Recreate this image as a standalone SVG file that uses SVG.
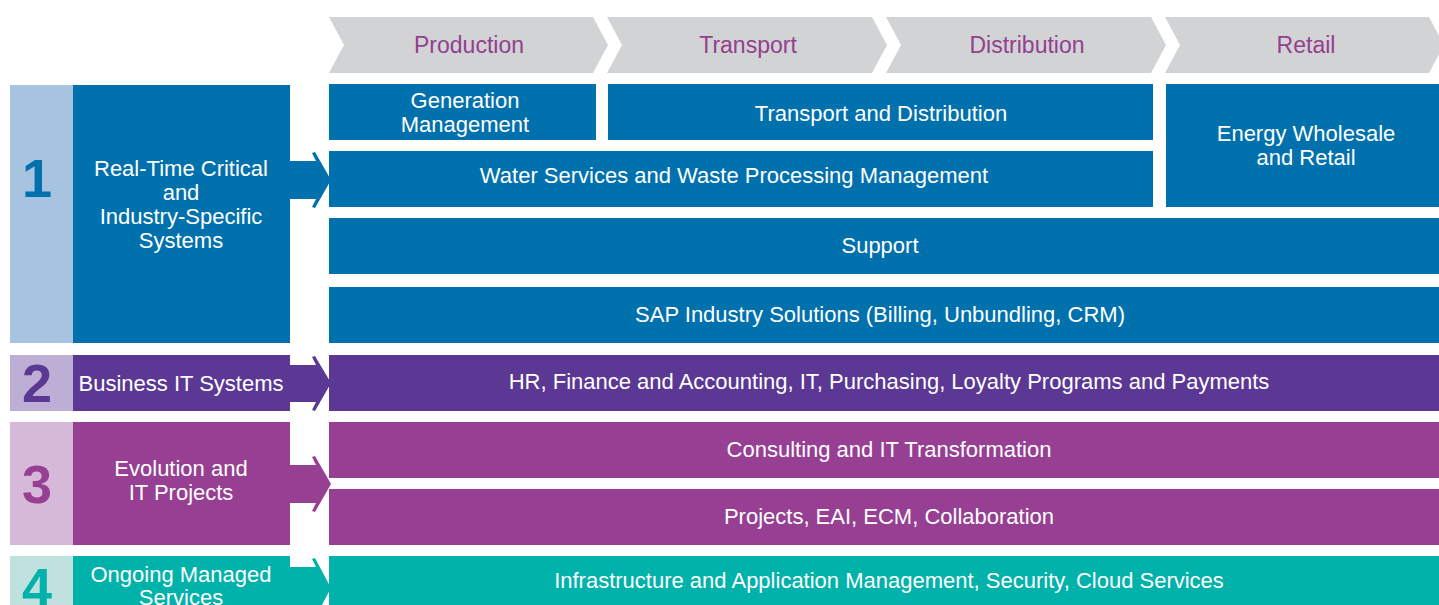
<svg xmlns="http://www.w3.org/2000/svg" width="1439" height="605" viewBox="0 0 1439 605">
<style>
text{font-family:"Liberation Sans","DejaVu Sans",sans-serif;font-size:22px;text-anchor:middle;fill:#ffffff}
.hd{fill:#93408f;font-size:23px}
.num{font-size:54px;font-weight:bold}
.chev{fill:#d1d3d5}
.b1{fill:#0071ad}.l1{fill:#a6c4e0}
.b2{fill:#5b3893}.l2{fill:#bcaed5}
.b3{fill:#963f93}.l3{fill:#d6b9d8}
.b4{fill:#00b2a9}.l4{fill:#bfe2df}
</style>
<rect width="1439" height="605" fill="#ffffff"/>
<g id="header">
<g id="h-production"><polygon class="chev" points="329,17 593,17 608,45 593,73 329,73 344,45"/><text class="hd" x="469" y="53">Production</text></g>
<g id="h-transport"><polygon class="chev" points="607,17 872,17 887,45 872,73 607,73 622,45"/><text class="hd" x="748" y="53">Transport</text></g>
<g id="h-distribution"><polygon class="chev" points="886,17 1151,17 1166,45 1151,73 886,73 901,45"/><text class="hd" x="1027" y="53">Distribution</text></g>
<g id="h-retail"><polygon class="chev" points="1165,17 1429,17 1444,45 1429,73 1165,73 1180,45"/><text class="hd" x="1306" y="53">Retail</text></g>
</g>
<g id="cat1">
<rect class="l1" x="10" y="85" width="63" height="258"/>
<text class="num" x="37" y="197" style="fill:#0071ad">1</text>
<rect class="b1" x="73" y="85" width="217" height="258"/>
<text x="181" y="176">Real-Time Critical</text>
<text x="181" y="200">and</text>
<text x="181" y="224">Industry-Specific</text>
<text x="181" y="248">Systems</text>
</g>
<g id="cat2">
<rect class="l2" x="10" y="355" width="63" height="56"/>
<text class="num" x="37" y="402" style="fill:#5b3893">2</text>
<rect class="b2" x="73" y="355" width="217" height="56"/>
<text x="181" y="391">Business IT Systems</text>
</g>
<g id="cat3">
<rect class="l3" x="10" y="422" width="63" height="123"/>
<text class="num" x="37" y="503" style="fill:#963f93">3</text>
<rect class="b3" x="73" y="422" width="217" height="123"/>
<text x="181" y="476">Evolution and</text>
<text x="181" y="500">IT Projects</text>
</g>
<g id="cat4">
<rect class="l4" x="10" y="556" width="63" height="60"/>
<text class="num" x="37" y="606" style="fill:#00b2a9">4</text>
<rect class="b4" x="73" y="556" width="217" height="60"/>
<text x="181" y="582">Ongoing Managed</text>
<text x="181" y="605">Services</text>
</g>
<g id="connectors">
<polygon class="b1" points="289,161 316,161 312,153 315,152 331,180 315,208 312,207 316,199 289,199"/>
<polygon class="b2" points="289,365 316,365 312,357 315,356 331,383 315,411 312,410 316,402 289,402"/>
<polygon class="b3" points="289,465 316,465 312,457 315,456 331,484 315,512 312,511 316,503 289,503"/>
<polygon class="b4" points="289,567 316,567 312,559 315,558 331,588 315,618 312,617 316,609 289,609"/>
</g>
<g id="generation"><rect class="b1" x="329" y="84" width="267" height="56"/><text x="465" y="108">Generation</text><text x="465" y="132">Management</text></g>
<g id="transport-distribution"><rect class="b1" x="608" y="84" width="545" height="56"/><text x="881" y="121">Transport and Distribution</text></g>
<g id="energy"><rect class="b1" x="1166" y="84" width="273" height="123"/><text x="1306" y="141">Energy Wholesale</text><text x="1306" y="165">and Retail</text></g>
<g id="water"><rect class="b1" x="329" y="151" width="824" height="56"/><text x="734" y="183">Water Services and Waste Processing Management</text></g>
<g id="support"><rect class="b1" x="329" y="218" width="1110" height="56"/><text x="880" y="253">Support</text></g>
<g id="sap"><rect class="b1" x="329" y="287" width="1110" height="56"/><text x="880" y="322">SAP Industry Solutions (Billing, Unbundling, CRM)</text></g>
<g id="hr"><rect class="b2" x="329" y="355" width="1110" height="56"/><text x="889" y="389">HR, Finance and Accounting, IT, Purchasing, Loyalty Programs and Payments</text></g>
<g id="consulting"><rect class="b3" x="329" y="422" width="1110" height="56"/><text x="889" y="457">Consulting and IT Transformation</text></g>
<g id="projects"><rect class="b3" x="329" y="489" width="1110" height="56"/><text x="889" y="524">Projects, EAI, ECM, Collaboration</text></g>
<g id="infra"><rect class="b4" x="329" y="556" width="1110" height="60"/><text x="889" y="588">Infrastructure and Application Management, Security, Cloud Services</text></g>
</svg>
